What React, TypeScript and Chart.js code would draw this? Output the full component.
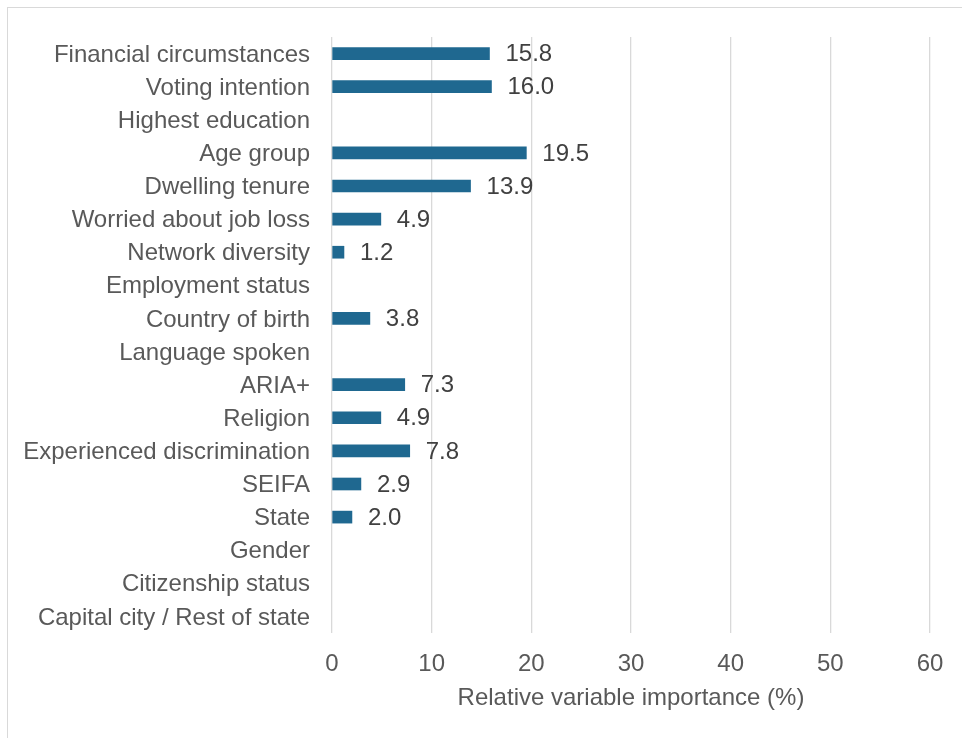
import React, { useEffect, useRef } from "react";
import { Chart, registerables } from "chart.js";

Chart.register(...registerables);

const categories: string[] = [
  "Financial circumstances",
  "Voting intention",
  "Highest education",
  "Age group",
  "Dwelling tenure",
  "Worried about job loss",
  "Network diversity",
  "Employment status",
  "Country of birth",
  "Language spoken",
  "ARIA+",
  "Religion",
  "Experienced discrimination",
  "SEIFA",
  "State",
  "Gender",
  "Citizenship status",
  "Capital city / Rest of state",
];

const importance: (number | null)[] = [
  15.8, 16.0, null, 19.5, 13.9, 4.9, 1.2, null, 3.8, null, 7.3, 4.9, 7.8, 2.9, 2.0, null, null, null,
];

const xTicks: number[] = [0, 10, 20, 30, 40, 50, 60];
const axisTitle = "Relative variable importance (%)";

const FONT = "'Liberation Sans', Arial, sans-serif";
const SIZE = 24;

const valueLabels = {
  id: "valueLabels",
  afterDatasetsDraw(chart: any) {
    const { ctx } = chart;
    const meta = chart.getDatasetMeta(0);
    ctx.save();
    ctx.font = `${SIZE}px ${FONT}`;
    ctx.fillStyle = "#404040";
    ctx.textAlign = "left";
    ctx.textBaseline = "middle";
    meta.data.forEach((bar: any, i: number) => {
      const v = importance[i];
      if (v === null || v === undefined) return;
      ctx.fillText(v.toFixed(1), bar.x + 16, bar.y + 1);
    });
    ctx.restore();
  },
};

export default function App() {
  const ref = useRef<HTMLCanvasElement>(null);
  useEffect(() => {
    if (!ref.current) return;
    const chart = new Chart(ref.current, {
      type: "bar",
      data: {
        labels: categories,
        datasets: [
          {
            data: importance,
            backgroundColor: "#1f6890",
            borderWidth: 0,
            barThickness: 12,
          },
        ],
      },
      options: {
        indexAxis: "y",
        animation: false,
        responsive: false,
        maintainAspectRatio: false,
        layout: { padding: { left: 0, right: 32, top: 37, bottom: 0 } },
        plugins: {
          legend: { display: false },
          tooltip: { enabled: false },
        },
        scales: {
          x: {
            min: 0,
            max: 60,
            afterBuildTicks: (scale: any) => {
              scale.ticks = xTicks.map((v) => ({ value: v }));
            },
            afterFit: (scale: any) => {
              scale.height = 105;
            },
            grid: { color: "#d9d9d9", lineWidth: 1.3, drawTicks: false },
            border: { display: false },
            ticks: {
              padding: 17,
              color: "#595959",
              font: { family: FONT, size: SIZE },
              maxRotation: 0,
            },
            title: {
              display: true,
              text: axisTitle,
              color: "#595959",
              font: { family: FONT, size: SIZE },
              padding: { top: 0, bottom: 25 },
            },
          },
          y: {
            afterFit: (scale: any) => {
              scale.width = 332;
            },
            grid: { display: false, drawTicks: false },
            border: { display: false },
            ticks: {
              padding: 22,
              labelOffset: 1.5,
              color: "#595959",
              font: { family: FONT, size: SIZE },
              autoSkip: false,
            },
          },
        },
      },
      plugins: [valueLabels],
    });
    return () => chart.destroy();
  }, []);

  return (
    <div style={{ position: "fixed", left: 0, top: 0, width: 962, height: 738, background: "#fff", overflow: "hidden" }}>
      <div
        style={{
          position: "absolute",
          left: 7,
          top: 7,
          width: 1200,
          height: 1200,
          border: "1.5px solid #d9d9d9",
          boxSizing: "border-box",
        }}
      />
      <canvas ref={ref} width={962} height={738} style={{ position: "absolute", left: 0, top: 0, width: 962, height: 738 }} />
    </div>
  );
}
